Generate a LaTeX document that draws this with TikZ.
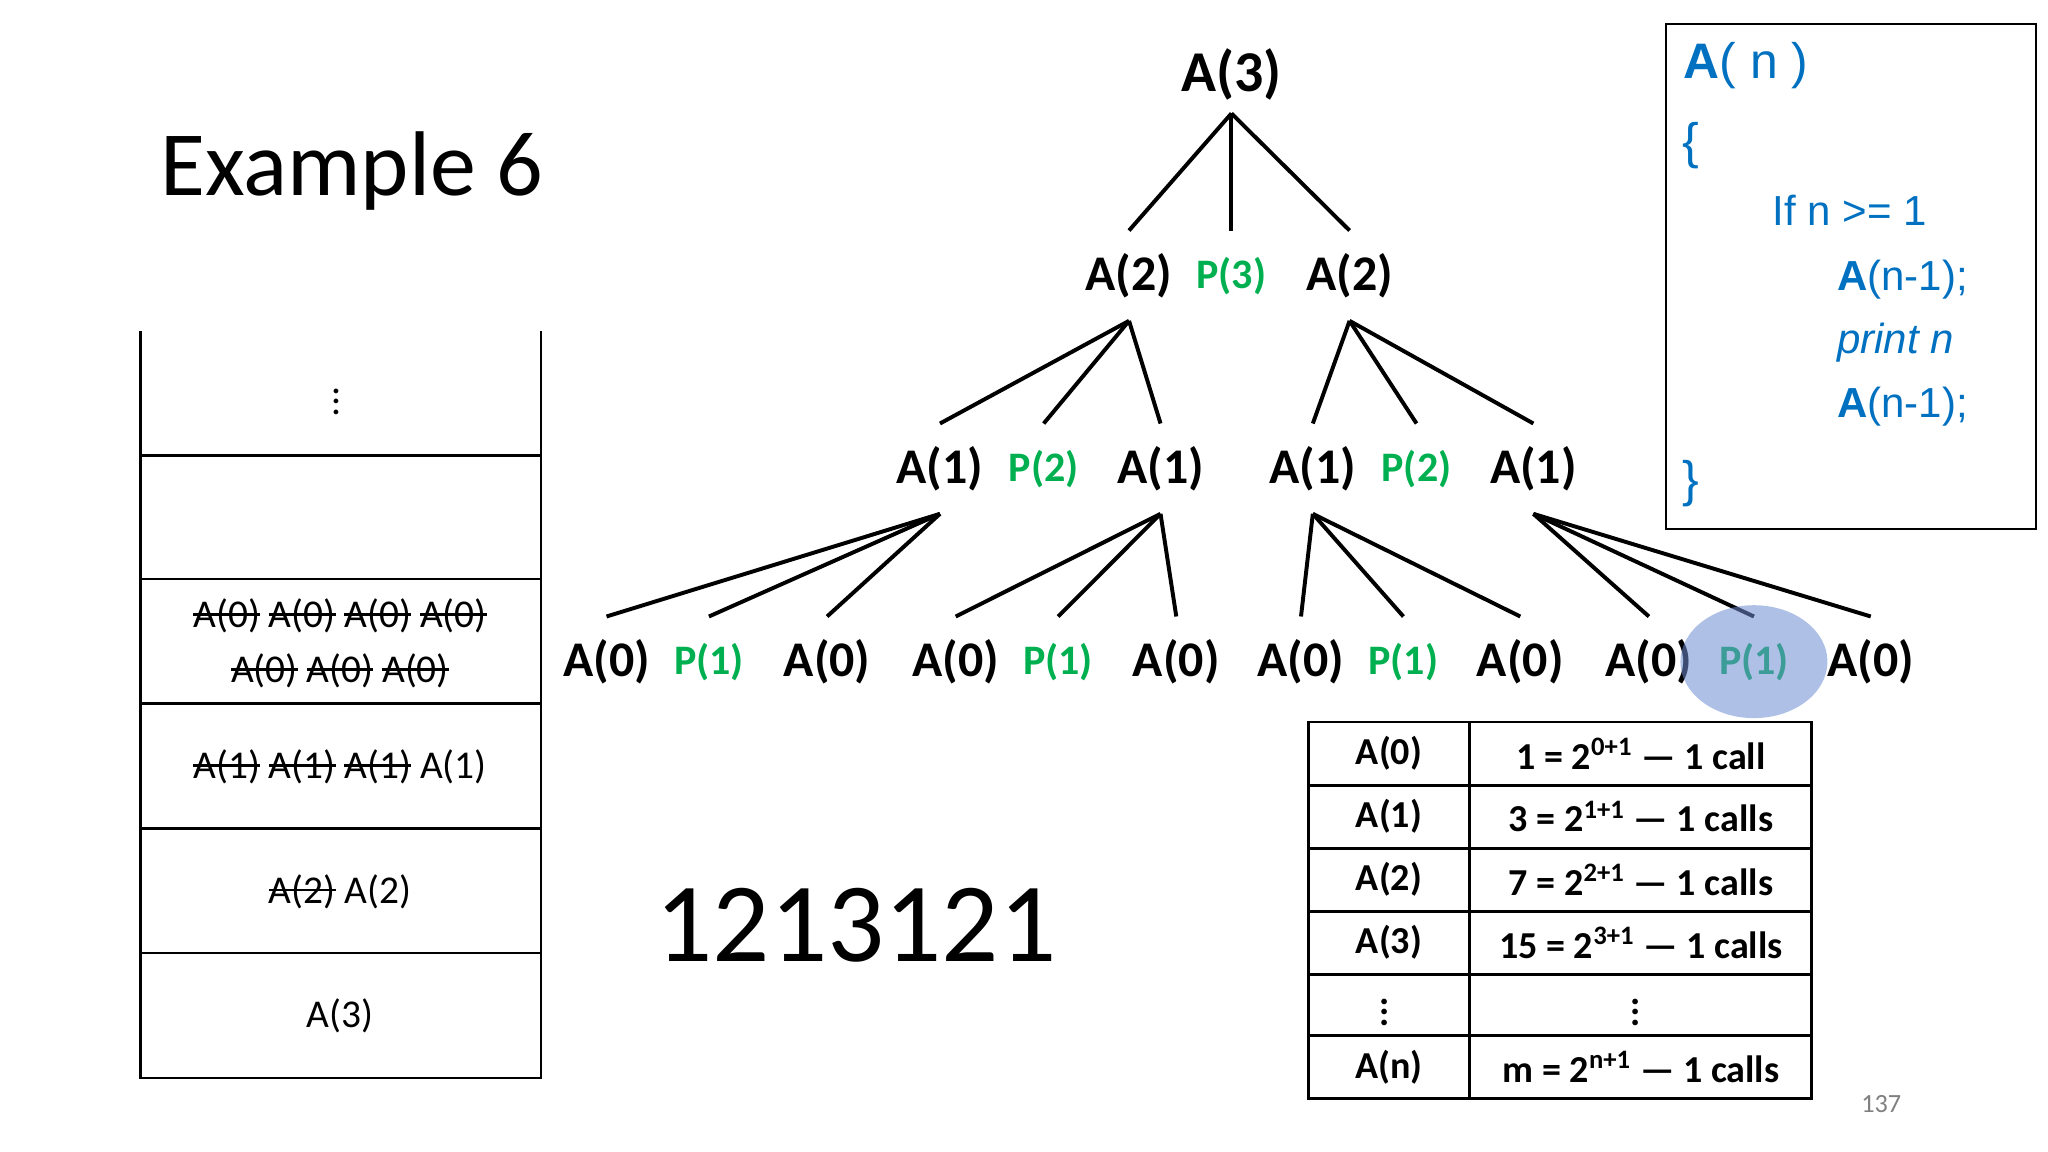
\documentclass[tikz,border=0pt]{standalone}
\usepackage{fontspec}
\setmainfont{Carlito}
\newfontfamily\arial{Liberation Sans}
\definecolor{pgreen}{RGB}{0,176,80}
\definecolor{cblue}{RGB}{0,112,192}
\definecolor{hl}{RGB}{110,140,210}
\newcommand\strk[1]{\setbox0\hbox{#1}\rlap{\rule[0.3em]{\wd0}{0.07em}}\box0\relax}
\begin{document}
\begin{tikzpicture}[x=0.5pt,y=-0.5pt,
  tn/.style={font=\fontsize{19}{19}\selectfont\bfseries, inner sep=0, minimum height=34pt},
  pn/.style={tn, text=pgreen, font=\fontsize{16}{16}\selectfont\bfseries},
  edge/.style={line width=1.5pt},
  st/.style={font=\fontsize{15}{18}\selectfont, align=center},
  tb/.style={font=\fontsize{14.5}{15}\selectfont\bfseries},
  cd/.style={font=\arial\fontsize{16}{16}\selectfont, text=cblue, anchor=base west, inner sep=0}]
\useasboundingbox (0,0) rectangle (1560,877.5);
% title
\node[font=\fontsize{35}{35}\selectfont] (title) at (268,130) {Example 6};
% tree
\node[tn, font=\fontsize{22}{22}\selectfont\bfseries, minimum height=29pt] (a3) at (938,57) {A(3)};
\node[tn] (b1) at (860,210) {A(2)};
\node[pn] (b2) at (938,210) {P(3)};
\node[tn] (b3) at (1028,210) {A(2)};
\foreach \n/\x/\t in {c1/716/A,c3/884/A,c4/1000/A,c6/1168/A}
  \node[tn] (\n) at (\x,357) {A(1)};
\foreach \n/\x in {c2/795,c5/1079}
  \node[pn] (\n) at (\x,357) {P(2)};
\foreach \n/\x in {d1/462,d3/630,d4/728,d6/896,d7/991,d9/1158,d10/1256,d12/1425}
  \node[tn] (\n) at (\x,504) {A(0)};
\foreach \n/\x in {d2/540,d5/806,d8/1069,d11/1336}
  \node[pn] (\n) at (\x,504) {P(1)};
\foreach \c in {b1,b2,b3} \draw[edge] (a3.south) -- (\c.north);
\foreach \c in {c1,c2,c3} \draw[edge] (b1.south) -- (\c.north);
\foreach \c in {c4,c5,c6} \draw[edge] (b3.south) -- (\c.north);
\foreach \c in {d1,d2,d3} \draw[edge] (c1.south) -- (\c.north);
\foreach \c in {d4,d5,d6} \draw[edge] (c3.south) -- (\c.north);
\foreach \c in {d7,d8,d9} \draw[edge] (c4.south) -- (\c.north);
\foreach \c in {d10,d11,d12} \draw[edge] (c6.south) -- (\c.north);
\fill[hl, opacity=0.55] (d11) ellipse [x radius=56, y radius=43];
% stack
\draw[line width=1pt] (107,252) -- (107,821) -- (412,821) -- (412,252);
\foreach \y in {347,441,536,631,726} \draw[line width=1pt] (107,\y) -- (412,\y);
\node[st] (s1) at (256,300) {$\vdots$};
\node[st] (s3) at (259,490) {\strk{A(0)} \strk{A(0)} \strk{A(0)} \strk{A(0)}\\[3pt]\strk{A(0)} \strk{A(0)} \strk{A(0)}};
\node[st] (s4) at (259,584) {\strk{A(1)} \strk{A(1)} \strk{A(1)} A(1)};
\node[st] (s5) at (259,679) {\strk{A(2)} A(2)};
\node[st] (s6) at (259,774) {A(3)};
% output
\node[font=\fontsize{43}{43}\selectfont] (out) at (652,705) {1213121};
% table
\draw[line width=1.1pt] (997,550) rectangle (1380,837);
\draw[line width=1.1pt] (1119,550) -- (1119,837);
\foreach \y in {598,646,694,742,789} \draw[line width=1.1pt] (997,\y) -- (1380,\y);
\foreach \y/\l/\r [count=\i] in {574/A(0)/{1 = 2\textsuperscript{0+1} — 1 call},622/A(1)/{3 = 2\textsuperscript{1+1} — 1 calls},670/A(2)/{7 = 2\textsuperscript{2+1} — 1 calls},718/A(3)/{15 = 2\textsuperscript{3+1} — 1 calls},813/A(n)/{m = 2\textsuperscript{n+1} — 1 calls}} {
  \node[tb] (tl\i) at (1058,\y) {\l};
  \node[tb] (tr\i) at (1250,\y) {\r};
}
\node[tb] (tld) at (1055,765) {$\vdots$};
\node[tb] (trd) at (1246,765) {$\vdots$};
% code box
\draw[line width=0.8pt] (1269,18) rectangle (1551,403);
\node[cd, font=\arial\fontsize{19}{19}\selectfont] (k1) at (1282,60) {\textbf{A}( n )};
\node[cd, font=\arial\fontsize{19}{19}\selectfont] (k2) at (1281,121) {\{};
\node[cd] (k3) at (1350,172) {If n >= 1};
\node[cd] (k4) at (1399,221) {\textbf{A}(n-1);};
\node[cd] (k5) at (1399,269) {\textit{print n}};
\node[cd] (k6) at (1399,318) {\textbf{A}(n-1);};
\node[cd, font=\arial\fontsize{19}{19}\selectfont] (k7) at (1281,378) {\}};
\node[font=\fontsize{10}{10}\selectfont, text=gray] (pg) at (1433,841) {137};
\end{tikzpicture}
\end{document}
